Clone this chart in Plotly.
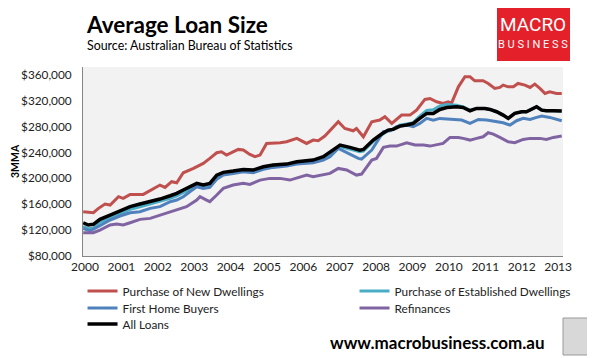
import plotly.graph_objects as go

# ---- data (x in decimal years) ----
new_x = [1999.95, 2000.23, 2000.37, 2000.55, 2000.69, 2000.92, 2001.05, 2001.24, 2001.60, 2001.74,
         2002.06, 2002.20, 2002.38, 2002.52, 2002.70, 2002.98, 2003.25, 2003.43, 2003.62, 2003.75,
         2003.89, 2004.21, 2004.35, 2004.53, 2004.67, 2004.81, 2004.99, 2005.36, 2005.54, 2005.82,
         2006.09, 2006.27, 2006.41, 2006.59, 2006.78, 2006.96, 2007.14, 2007.37, 2007.46, 2007.65,
         2007.88, 2008.10, 2008.24, 2008.43, 2008.70, 2008.93, 2009.11, 2009.34, 2009.48, 2009.66,
         2009.84, 2009.98, 2010.07, 2010.26, 2010.44, 2010.58, 2010.71, 2010.94, 2011.08, 2011.26,
         2011.40, 2011.49, 2011.63, 2011.77, 2011.90, 2012.09, 2012.23, 2012.36, 2012.50, 2012.64,
         2012.77, 2012.96, 2013.10]
new_dwellings = [148400, 146900, 153600, 160300, 158700, 171600, 169000, 175200, 175200, 179300,
                 189600, 186000, 194800, 193200, 208600, 215300, 223100, 230800, 239500, 241100,
                 235900, 244700, 243700, 237000, 233400, 235900, 253900, 255000, 256500, 261700,
                 253900, 259100, 258100, 265300, 277100, 287400, 277100, 273500, 277100, 264200,
                 287400, 290000, 295100, 284800, 297700, 297700, 305400, 321900, 323400, 318300,
                 315700, 318300, 315700, 341400, 356900, 356900, 350700, 350700, 346600, 338900,
                 340400, 344000, 341400, 341400, 346600, 344000, 340400, 345600, 338900, 331200,
                 333700, 331200, 331200]

all_x = [1999.95, 2000.09, 2000.23, 2000.41, 2000.69, 2000.96, 2001.24, 2001.51, 2001.79, 2002.06,
         2002.34, 2002.52, 2002.70, 2002.88, 2003.07, 2003.25, 2003.43, 2003.62, 2003.80, 2004.07,
         2004.35, 2004.62, 2004.90, 2005.17, 2005.54, 2005.82, 2006.09, 2006.27, 2006.55, 2006.73,
         2006.96, 2007.01, 2007.28, 2007.55, 2007.65, 2007.92, 2008.15, 2008.33, 2008.47, 2008.65,
         2008.84, 2009.02, 2009.20, 2009.39, 2009.57, 2009.75, 2009.94, 2010.21, 2010.39, 2010.58,
         2010.76, 2010.99, 2011.13, 2011.31, 2011.49, 2011.63, 2011.81, 2012.00, 2012.13, 2012.27,
         2012.41, 2012.55, 2012.68, 2012.87, 2013.10]
established = [126000, 122000, 123000, 132000, 139000, 145000, 152000, 156000, 160000, 164000,
               169000, 173000, 178000, 184000, 189000, 187000, 189000, 202000, 207000, 209000,
               212000, 211000, 216000, 219000, 220000, 224000, 225000, 226000, 231000, 239000,
               248000, 249000, 245000, 241000, 242000, 257000, 267000, 274000, 276000, 282000,
               284000, 286000, 296000, 305000, 306000, 312000, 314000, 313000, 310500, 305000,
               308000, 308000, 306400, 302900, 297700, 292600, 300300, 302900, 302900, 306400,
               310600, 305400, 304400, 304400, 303900]
all_loans = [131400, 127900, 128900, 136600, 143300, 149500, 156200, 160300, 163900, 168000,
             173100, 176700, 181900, 187000, 192200, 189600, 192200, 205000, 209200, 211200,
             213800, 212800, 217900, 220500, 222000, 225600, 226700, 228200, 233400, 241100,
             249800, 251400, 247800, 243600, 244700, 259100, 268400, 274500, 275600, 280700,
             282300, 284800, 292600, 300300, 300300, 306400, 309500, 310600, 309500, 304400,
             308000, 308000, 306400, 302900, 297700, 292600, 300300, 302900, 302900, 306400,
             310600, 305400, 304400, 304400, 303900]

fhb_x = [1999.95, 2000.14, 2000.41, 2000.69, 2000.96, 2001.24, 2001.51, 2001.79, 2002.06, 2002.34,
         2002.52, 2002.70, 2002.88, 2003.07, 2003.25, 2003.43, 2003.62, 2003.80, 2004.07, 2004.35,
         2004.62, 2004.90, 2005.17, 2005.54, 2005.82, 2006.09, 2006.27, 2006.55, 2006.73, 2006.96,
         2007.19, 2007.51, 2007.60, 2007.88, 2008.20, 2008.38, 2008.56, 2008.84, 2009.02, 2009.20,
         2009.39, 2009.57, 2009.75, 2010.03, 2010.21, 2010.35, 2010.58, 2010.81, 2011.04, 2011.31,
         2011.49, 2011.68, 2011.86, 2012.04, 2012.23, 2012.41, 2012.55, 2012.77, 2013.10]
first_home = [122700, 119000, 126800, 135600, 141800, 146900, 148400, 153600, 156200, 163900,
              166400, 171600, 179300, 187000, 184500, 186000, 198400, 205000, 207600, 210200,
              208600, 213800, 216900, 219000, 222000, 223100, 224100, 228200, 233400, 246200,
              239500, 230800, 229800, 243700, 272000, 273500, 279700, 282300, 279700, 284800,
              292600, 290000, 292600, 291000, 291000, 290000, 284800, 291000, 290000, 287400,
              285900, 282300, 289000, 292600, 291000, 294100, 296200, 294100, 289000]

ref_x = [1999.95, 2000.23, 2000.41, 2000.69, 2000.87, 2001.05, 2001.24, 2001.51, 2001.79, 2002.06,
         2002.34, 2002.52, 2002.79, 2003.07, 2003.16, 2003.34, 2003.43, 2003.62, 2003.80, 2004.07,
         2004.35, 2004.53, 2004.81, 2005.08, 2005.36, 2005.63, 2005.91, 2006.09, 2006.27, 2006.55,
         2006.73, 2006.96, 2007.19, 2007.46, 2007.60, 2007.88, 2008.01, 2008.20, 2008.38, 2008.56,
         2008.84, 2009.07, 2009.30, 2009.48, 2009.66, 2009.84, 2010.03, 2010.26, 2010.39, 2010.58,
         2010.76, 2010.94, 2011.08, 2011.22, 2011.40, 2011.63, 2011.81, 2012.04, 2012.23, 2012.50,
         2012.68, 2012.87, 2013.10]
refinances = [116000, 116000, 120100, 127900, 129400, 127900, 131400, 136600, 138100, 143300,
              148400, 151000, 156200, 166400, 171600, 166400, 163900, 174200, 184500, 189600,
              192200, 190600, 197300, 199900, 199900, 197300, 202500, 205000, 202500, 206100,
              207600, 215300, 212800, 205000, 206600, 228200, 230800, 247800, 249800, 249800,
              255000, 251400, 251400, 249800, 251400, 253900, 263200, 263200, 261700, 259100,
              261700, 264200, 270400, 268400, 263200, 256500, 255000, 260100, 261700, 261700,
              260100, 263200, 265300]

year_ticks = list(range(2000, 2014))
y_ticks = [80000, 120000, 160000, 200000, 240000, 280000, 320000, 360000]

series = [
    ("Purchase of New Dwellings", new_x, new_dwellings, "#C0504D", 3, "legend"),
    ("Purchase of Established Dwellings", all_x, established, "#4BACC6", 3, "legend"),
    ("First Home Buyers", fhb_x, first_home, "#4F81BD", 3, "legend2"),
    ("Refinances", ref_x, refinances, "#8064A2", 3, "legend2"),
    ("All Loans", all_x, all_loans, "#000000", 3.5, "legend3"),
]

FONT = "Lato"
fig = go.Figure()
for name, xs, ys, col, w, lg in series:
    fig.add_trace(go.Scatter(x=xs, y=ys, mode="lines", name=name,
                             line=dict(color=col, width=w), legend=lg))

# the page body adds an 8px offset, so the figure is 8px smaller and shifted
OFF = 8
W, H = 595 - OFF, 358 - OFF
# plot area in reference-picture pixels: x 83..563, y 67..256
PL, PR, PT, PB = 83 - OFF, 563 - OFF, 67 - OFF, 256 - OFF

def px(xpix):
    return (xpix - OFF - PL) / float(PR - PL)

def py(ypix):
    return (PB - (ypix - OFF)) / float(PB - PT)

leg_common = dict(orientation="h", xanchor="left", yanchor="middle",
                  font=dict(family=FONT, size=11.8, color="#222"),
                  entrywidth=227, bgcolor="rgba(0,0,0,0)", itemclick=False)

fig.update_layout(
    width=W, height=H,
    margin=dict(l=PL, r=W - PR, t=PT, b=H - PB, autoexpand=False),
    paper_bgcolor="white",
    plot_bgcolor="#F2F2F2",
    font=dict(family=FONT, size=12, color="#222"),
    showlegend=True,
    legend=dict(x=-0.001, y=py(291), **leg_common),
    legend2=dict(x=-0.001, y=py(308), **leg_common),
    legend3=dict(x=-0.001, y=py(324), **leg_common),
    xaxis=dict(range=[1999.945, 2013.135], tickvals=year_ticks,
               ticktext=[str(y) for y in year_ticks],
               showgrid=False, zeroline=False, showline=True, linecolor="#868686",
               linewidth=1, ticks="", tickfont=dict(family=FONT, size=12, color="#222")),
    yaxis=dict(range=[80000, 372000], tickvals=y_ticks, tickformat="$,",
               showgrid=False, zeroline=False, showline=True, linecolor="#868686",
               linewidth=1, ticks="", ticklabelstandoff=8,
               tickfont=dict(family=FONT, size=11.8, color="#222")),
)

ann = [
    dict(text="<b>Average Loan Size</b>", x=px(177), y=py(24), font=dict(family=FONT, size=22.5, color="#000")),
    dict(text="Source: Australian Bureau of Statistics", x=px(189.5), y=py(46), font=dict(family=FONT, size=12.4, color="#000")),
    dict(text="<b>3MMA</b>", x=px(15), y=py(161), textangle=-90, font=dict(family=FONT, size=10.5, color="#000")),
    dict(text="<b>www.macrobusiness.com.au</b>", x=px(437), y=py(342), font=dict(family=FONT, size=17, color="#000")),
    dict(text="MACRO", x=px(533), y=py(25), font=dict(family="Roboto", size=19, color="white")),
    dict(text="B U S I N E S S", x=px(533), y=py(44), font=dict(family="Roboto", size=11, color="white")),
]
for a in ann:
    fig.add_annotation(xref="paper", yref="paper", showarrow=False, xanchor="center", yanchor="middle", **a)

# logo box and wolf image placeholder
fig.add_shape(type="rect", xref="paper", yref="paper", x0=px(497), x1=px(570), y0=py(61), y1=py(5),
              fillcolor="#E4202A", line=dict(width=0), layer="below")
fig.add_shape(type="rect", xref="paper", yref="paper", x0=px(563), x1=px(590), y0=py(355), y1=py(318),
              fillcolor="#D8D8D8", line=dict(color="#9A9A9A", width=1), layer="below")

fig.write_html("out.html")
